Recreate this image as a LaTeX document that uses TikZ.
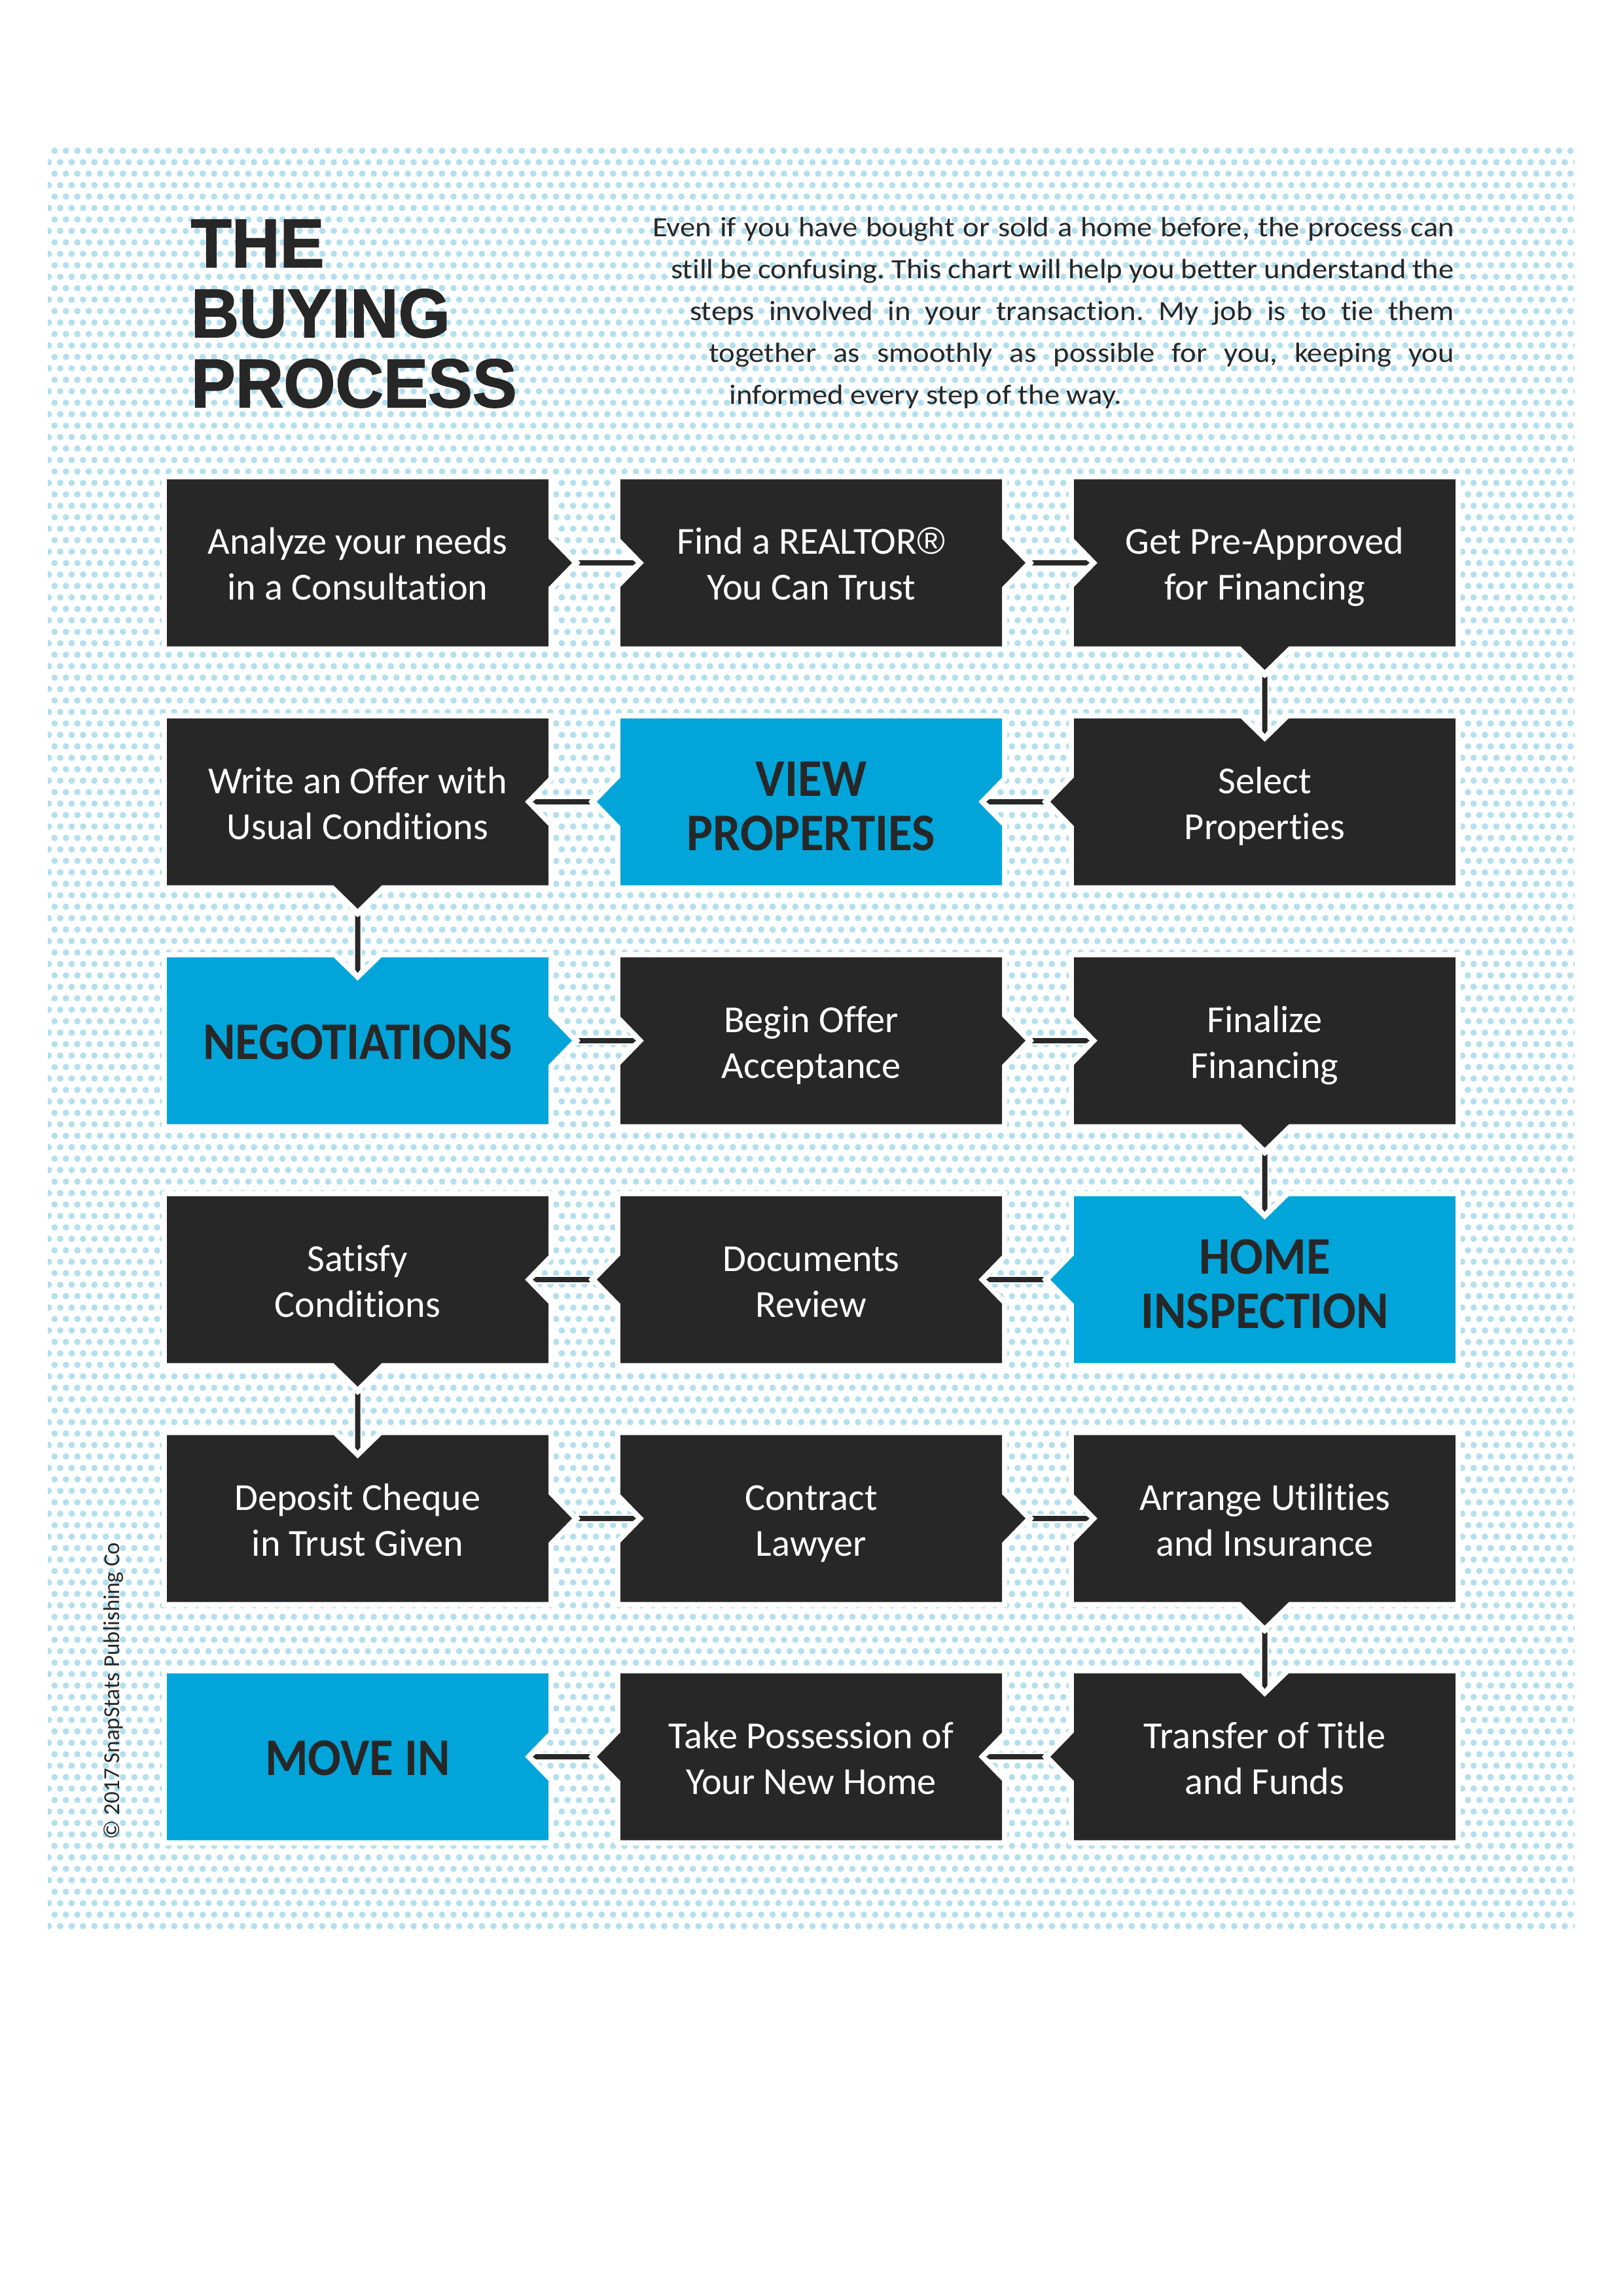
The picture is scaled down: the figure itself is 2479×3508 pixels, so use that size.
\documentclass[tikz,border=0pt]{standalone}
\usepackage{fontspec}
\usepackage{graphicx}
\setmainfont{Carlito}[Ligatures=NoCommon]
\newfontfamily\titlefont{Liberation Sans}[BoldFeatures={FakeBold=1.5}]
\newfontfamily\regfont{Liberation Sans}
\usetikzlibrary{calc,patterns}
\definecolor{bpdark}{HTML}{272727}
\definecolor{bpblue}{HTML}{01A5DA}
\definecolor{bpdot}{HTML}{B3DFEE}
\newlength\pxl \setlength\pxl{0.24pt}
\pgfdeclarepatternformonly{hexdots}{\pgfpointorigin}{\pgfqpoint{4.5pt}{8.4pt}}{\pgfqpoint{4.18pt}{8.4pt}}{%
  \pgfpathcircle{\pgfqpoint{1.2pt}{1.25pt}}{1.17pt}%
  \pgfpathcircle{\pgfqpoint{3.29pt}{5.45pt}}{1.17pt}%
  \pgfusepath{fill}}
% box shape: #1 centre, #2 colour, #3 top, #4 right, #5 bottom, #6 left (1 = arrow out, -1 = notch, 0 = flat)
\newcommand\bpshape[6]{%
  \fill[#2, preaction={draw=white, line width=3.84pt}]
   ($(#1)+(-291.5,-127.5)$) -- ($(#1)+(-37,-127.5)$) -- ($(#1)+(0,{-127.5-36*(#3)})$) -- ($(#1)+(37,-127.5)$)
   -- ($(#1)+(291.5,-127.5)$) -- ($(#1)+(291.5,-37)$) -- ($(#1)+({291.5+36*(#4)},0)$) -- ($(#1)+(291.5,37)$)
   -- ($(#1)+(291.5,127.5)$) -- ($(#1)+(37,127.5)$) -- ($(#1)+(0,{127.5+36*(#5)})$) -- ($(#1)+(-37,127.5)$)
   -- ($(#1)+(-291.5,127.5)$) -- ($(#1)+(-291.5,37)$) -- ($(#1)+({-291.5-36*(#6)},0)$) -- ($(#1)+(-291.5,-37)$) -- cycle;}
% connector bar: #1 from, #2 to, #3 #4 direction, #5 half extent of box in that direction
\newcommand\bpbar[5]{%
  \coordinate (bs) at ($(#1)+({(#3)*(#5+46)},{(#4)*(#5+46)})$);
  \coordinate (be) at ($(#2)-({(#3)*(#5-24)},{(#4)*(#5-24)})$);
  \fill[bpdark, preaction={draw=white, line width=1.2pt}]
    ($(bs)+({-4*(#4)},{4*(#3)})$) -- ($(be)+({-4*(#4)-5*(#3)},{4*(#3)-5*(#4)})$) -- (be)
    -- ($(be)+({4*(#4)-5*(#3)},{-4*(#3)-5*(#4)})$) -- ($(bs)+({4*(#4)},{-4*(#3)})$)
    -- ($(bs)+({3*(#3)},{3*(#4)})$) -- cycle;}
\newcommand\sq[1]{\scalebox{0.93}[1]{\strut #1}}
\newcommand\tq[1]{\scalebox{0.97}[1]{#1}}
\newcommand\pq[2]{\scalebox{1.1}[1]{\makebox[#1\pxl][s]{#2}}}
\tikzset{
  dtxt/.style={text=white, align=center, inner sep=0pt, font=\fontsize{14}{16.8}\selectfont},
  btxt/.style={text=bpdark, align=center, inner sep=0pt, font=\fontsize{19.4}{19.92}\selectfont\bfseries},
  ttl/.style={text=bpdark, inner sep=0pt, anchor=base west, font=\titlefont\bfseries\fontsize{25.2}{30}\selectfont},
  ptxt/.style={text=bpdark, inner sep=0pt, font=\fontsize{10.2}{15.4}\selectfont\frenchspacing},
  ctxt/.style={text=bpdark, inner sep=0pt, font=\fontsize{8.4}{10}\selectfont},
}
\begin{document}
\begin{tikzpicture}[x=0.24pt, y=-0.24pt]
\useasboundingbox (0,0) rectangle (2479,3508);
\fill[white] (0,0) rectangle (2479,3508);
\fill[pattern=hexdots, pattern color=bpdot] (73,222) rectangle (2406,2953);

% title
\node[ttl] (title1) at (291,408) {\tq{THE}};
\node[ttl] (title2) at (291,515) {\tq{BUYING}};
\node[ttl] (title3) at (291,622) {\tq{PROCESS}};

% paragraph
\node[ptxt, anchor=base east] (p1) at (2223,362) {\pq{1113.6}{Even if you have bought or sold a home before, the process can}};
\node[ptxt, anchor=base east] (p2) at (2223,426) {\pq{1088.2}{still be confusing. This chart will help you better understand the}};
\node[ptxt, anchor=base east] (p3) at (2223,490) {\pq{1061.8}{steps involved in your transaction. My job is to tie them}};
\node[ptxt, anchor=base east] (p4) at (2223,554) {\pq{1035.5}{together as smoothly as possible for you, keeping you}};
\node[ptxt, anchor=base west] (p5) at (1114,618) {\scalebox{1.1}[1]{informed every step of the way.}};

% copyright
\node[ctxt, rotate=90, anchor=base west] (copy) at (182,2811) {© 2017 SnapStats Publishing Co};

% box centres
\coordinate (b11) at (546.5,860);  \coordinate (b12) at (1239.5,860);  \coordinate (b13) at (1932.5,860);
\coordinate (b21) at (546.5,1225); \coordinate (b22) at (1239.5,1225); \coordinate (b23) at (1932.5,1225);
\coordinate (b31) at (546.5,1590); \coordinate (b32) at (1239.5,1590); \coordinate (b33) at (1932.5,1590);
\coordinate (b41) at (546.5,1955); \coordinate (b42) at (1239.5,1955); \coordinate (b43) at (1932.5,1955);
\coordinate (b51) at (546.5,2320); \coordinate (b52) at (1239.5,2320); \coordinate (b53) at (1932.5,2320);
\coordinate (b61) at (546.5,2684); \coordinate (b62) at (1239.5,2684); \coordinate (b63) at (1932.5,2684);

% box shapes
\bpshape{b11}{bpdark}{0}{1}{0}{0}
\bpshape{b12}{bpdark}{0}{1}{0}{-1}
\bpshape{b13}{bpdark}{0}{0}{1}{-1}
\bpshape{b23}{bpdark}{-1}{0}{0}{1}
\bpshape{b22}{bpblue}{0}{-1}{0}{1}
\bpshape{b21}{bpdark}{0}{-1}{1}{0}
\bpshape{b31}{bpblue}{-1}{1}{0}{0}
\bpshape{b32}{bpdark}{0}{1}{0}{-1}
\bpshape{b33}{bpdark}{0}{0}{1}{-1}
\bpshape{b43}{bpblue}{-1}{0}{0}{1}
\bpshape{b42}{bpdark}{0}{-1}{0}{1}
\bpshape{b41}{bpdark}{0}{-1}{1}{0}
\bpshape{b51}{bpdark}{-1}{1}{0}{0}
\bpshape{b52}{bpdark}{0}{1}{0}{-1}
\bpshape{b53}{bpdark}{0}{0}{1}{-1}
\bpshape{b63}{bpdark}{-1}{0}{0}{1}
\bpshape{b62}{bpdark}{0}{-1}{0}{1}
\bpshape{b61}{bpblue}{0}{-1}{0}{0}

% connectors
\bpbar{b11}{b12}{1}{0}{291.5}
\bpbar{b12}{b13}{1}{0}{291.5}
\bpbar{b13}{b23}{0}{1}{127.5}
\bpbar{b23}{b22}{-1}{0}{291.5}
\bpbar{b22}{b21}{-1}{0}{291.5}
\bpbar{b21}{b31}{0}{1}{127.5}
\bpbar{b31}{b32}{1}{0}{291.5}
\bpbar{b32}{b33}{1}{0}{291.5}
\bpbar{b33}{b43}{0}{1}{127.5}
\bpbar{b43}{b42}{-1}{0}{291.5}
\bpbar{b42}{b41}{-1}{0}{291.5}
\bpbar{b41}{b51}{0}{1}{127.5}
\bpbar{b51}{b52}{1}{0}{291.5}
\bpbar{b52}{b53}{1}{0}{291.5}
\bpbar{b53}{b63}{0}{1}{127.5}
\bpbar{b63}{b62}{-1}{0}{291.5}
\bpbar{b62}{b61}{-1}{0}{291.5}

% texts
\node[dtxt] (t11) at ($(b11)+(0,8)$) {\strut Analyze your needs\\\strut in a Consultation};
\node[dtxt] (t12) at ($(b12)+(0,8)$) {\strut Find a REALTOR{\regfont ®}\\\strut You Can Trust};
\node[dtxt] (t13) at ($(b13)+(0,8)$) {\strut Get Pre-Approved\\\strut for Financing};
\node[dtxt] (t21) at ($(b21)+(0,8)$) {\strut Write an Offer with\\\strut Usual Conditions};
\node[btxt] (t22) at ($(b22)+(0,16)$) {\sq{VIEW}\\\sq{PROPERTIES}};
\node[dtxt] (t23) at ($(b23)+(0,8)$) {\strut Select\\\strut Properties};
\node[btxt] (t31) at ($(b31)+(0,11.4)$) {\sq{NEGOTIATIONS}};
\node[dtxt] (t32) at ($(b32)+(0,8)$) {\strut Begin Offer\\\strut Acceptance};
\node[dtxt] (t33) at ($(b33)+(0,8)$) {\strut Finalize\\\strut Financing};
\node[dtxt] (t41) at ($(b41)+(0,8)$) {\strut Satisfy\\\strut Conditions};
\node[dtxt] (t42) at ($(b42)+(0,8)$) {\strut Documents\\\strut Review};
\node[btxt] (t43) at ($(b43)+(0,16)$) {\sq{HOME}\\\sq{INSPECTION}};
\node[dtxt] (t51) at ($(b51)+(0,8)$) {\strut Deposit Cheque\\\strut in Trust Given};
\node[dtxt] (t52) at ($(b52)+(0,8)$) {\strut Contract\\\strut Lawyer};
\node[dtxt] (t53) at ($(b53)+(0,8)$) {\strut Arrange Utilities\\\strut and Insurance};
\node[btxt] (t61) at ($(b61)+(0,11.4)$) {\sq{MOVE IN}};
\node[dtxt] (t62) at ($(b62)+(0,8)$) {\strut Take Possession of\\\strut Your New Home};
\node[dtxt] (t63) at ($(b63)+(0,8)$) {\strut Transfer of Title\\\strut and Funds};
\end{tikzpicture}
\end{document}
